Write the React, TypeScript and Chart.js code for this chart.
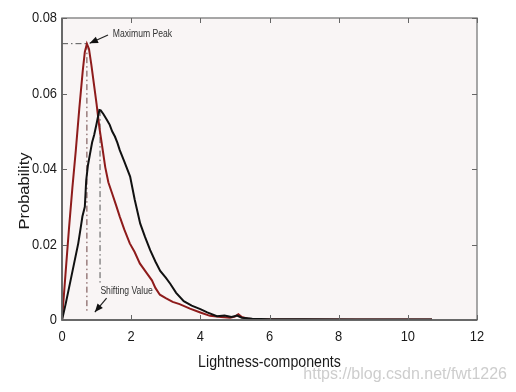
import React, { useEffect, useRef } from "react";
import { Chart, registerables } from "chart.js";

Chart.register(...registerables);

// ---- data ----
const xTicks = [0, 2, 4, 6, 8, 10, 12];
const yTicks = [0, 0.02, 0.04, 0.06, 0.08];
const yTickLabels = ["0", "0.02", "0.04", "0.06", "0.08"];

const redX = [0, 0.1, 0.2, 0.3, 0.4, 0.5, 0.6, 0.66, 0.72, 0.78, 0.85, 0.93, 1.0, 1.08, 1.17, 1.25, 1.34, 1.45, 1.56, 1.67, 1.8, 1.96, 2.1, 2.25, 2.45, 2.6, 2.7, 2.83, 3.0, 3.2, 3.4, 3.7, 4.0, 4.28, 4.6, 4.86, 5.0, 5.1, 5.2, 5.4, 5.7, 6.5, 8, 10.7];
const redY = [0, 0.012, 0.024, 0.035, 0.045, 0.056, 0.066, 0.071, 0.0732, 0.0718, 0.0675, 0.062, 0.0572, 0.051, 0.0455, 0.0405, 0.0365, 0.0335, 0.0305, 0.0274, 0.024, 0.0203, 0.018, 0.015, 0.0124, 0.0105, 0.0085, 0.0067, 0.0058, 0.0048, 0.0042, 0.003, 0.002, 0.0011, 0.0008, 0.0006, 0.0009, 0.0015, 0.0008, 0.0003, 0.0001, 0.0001, 0.0001, 0.0001];

const blackX = [0, 0.1, 0.23, 0.35, 0.47, 0.55, 0.59, 0.66, 0.7, 0.75, 0.81, 0.87, 0.93, 1.0, 1.08, 1.12, 1.2, 1.3, 1.38, 1.45, 1.53, 1.6, 1.67, 1.8, 1.97, 2.1, 2.26, 2.4, 2.55, 2.7, 2.84, 3.0, 3.13, 3.3, 3.52, 3.75, 4.0, 4.2, 4.48, 4.7, 4.9, 5.06, 5.2, 5.5, 6, 7, 8.5, 10.7];
const blackY = [0, 0.004, 0.0097, 0.015, 0.0203, 0.025, 0.0274, 0.03, 0.037, 0.041, 0.044, 0.047, 0.049, 0.052, 0.0556, 0.0555, 0.0545, 0.053, 0.0517, 0.05, 0.0486, 0.047, 0.045, 0.042, 0.038, 0.032, 0.0256, 0.022, 0.0185, 0.0155, 0.013, 0.0112, 0.0096, 0.0072, 0.005, 0.0038, 0.0029, 0.002, 0.001, 0.0012, 0.0008, 0.0012, 0.0006, 0.0003, 0.0002, 0.0002, 0.0001, 0.0001];

// reference (dash-dot) lines: [x1, y1, x2, y2]
const peakHLine = [0, 0.0732, 0.72, 0.0732];
const peakVLine = [0.72, 0.0732, 0.72, 0.0022];
const shiftVLine = [1.1, 0.0556, 1.1, 0.0095];

// annotations: text, text position, arrow tail -> head (data units)
const annoTexts = ["Maximum Peak", "Shifting Value"];
const annoTextPos = [[1.47, 0.0758], [1.11, 0.0077]];
const annoArrows = [[1.33, 0.0755, 0.8, 0.0733], [1.29, 0.0058, 0.95, 0.0021]];

const xTitle = "Lightness-components";
const yTitle = "Probability";
const watermark = "https://blog.csdn.net/fwt1226";

const SQ = 0.86;

function sqText(ctx: CanvasRenderingContext2D, text: string, x: number, y: number, font: string, align: CanvasTextAlign, color: string) {
  ctx.save();
  ctx.font = font;
  ctx.fillStyle = color;
  ctx.textAlign = align;
  ctx.textBaseline = "middle";
  ctx.translate(x, y);
  ctx.scale(SQ, 1);
  ctx.fillText(text, 0, 0);
  ctx.restore();
}

const decor = {
  id: "decor",
  beforeDraw(chart: any) {
    const { ctx, chartArea: a } = chart;
    ctx.save();
    ctx.fillStyle = "#f9f5f5";
    ctx.fillRect(a.left, a.top, a.right - a.left, a.bottom - a.top);
    ctx.restore();
  },
  beforeDatasetsDraw(chart: any) {
    const { ctx } = chart;
    const xs = chart.scales.x, ys = chart.scales.y;
    const line = (l: number[], color: string) => {
      ctx.save();
      ctx.strokeStyle = color;
      ctx.lineWidth = 1;
      ctx.setLineDash([6, 3, 1.5, 3]);
      ctx.beginPath();
      ctx.moveTo(xs.getPixelForValue(l[0]), ys.getPixelForValue(l[1]));
      ctx.lineTo(xs.getPixelForValue(l[2]), ys.getPixelForValue(l[3]));
      ctx.stroke();
      ctx.restore();
    };
    line(peakHLine, "#555");
    line(peakVLine, "#6a4040");
    line(shiftVLine, "#555");
  },
  afterDraw(chart: any) {
    const { ctx, chartArea: a } = chart;
    const xs = chart.scales.x, ys = chart.scales.y;
    ctx.save();
    // frame
    ctx.strokeStyle = "#8a8a8a";
    ctx.lineWidth = 1.5;
    ctx.strokeRect(a.left, a.top, a.right - a.left, a.bottom - a.top);
    ctx.strokeStyle = "#555";
    ctx.beginPath();
    ctx.moveTo(a.left, a.top);
    ctx.lineTo(a.left, a.bottom);
    ctx.lineTo(a.right, a.bottom);
    ctx.stroke();
    // inward ticks
    ctx.lineWidth = 1;
    ctx.strokeStyle = "#666";
    ctx.beginPath();
    xTicks.forEach((v) => {
      const px = Math.round(xs.getPixelForValue(v)) + 0.5;
      ctx.moveTo(px, a.bottom); ctx.lineTo(px, a.bottom - 5);
      ctx.moveTo(px, a.top); ctx.lineTo(px, a.top + 5);
    });
    yTicks.forEach((v) => {
      const py = Math.round(ys.getPixelForValue(v)) + 0.5;
      ctx.moveTo(a.left, py); ctx.lineTo(a.left + 5, py);
      ctx.moveTo(a.right, py); ctx.lineTo(a.right - 5, py);
    });
    ctx.stroke();
    ctx.restore();

    const tickFont = "15px 'Liberation Sans', Arial, sans-serif";
    xTicks.forEach((v) => {
      sqText(ctx, String(v), xs.getPixelForValue(v), a.bottom + 17, tickFont, "center", "#1a1a1a");
    });
    yTicks.forEach((v, i) => {
      sqText(ctx, yTickLabels[i], a.left - 5, ys.getPixelForValue(v), tickFont, "right", "#1a1a1a");
    });
    // axis titles
    sqText(ctx, xTitle, (a.left + a.right) / 2, a.bottom + 42, "16.5px 'Liberation Sans', Arial, sans-serif", "center", "#1a1a1a");
    ctx.save();
    ctx.translate(25, 191);
    ctx.rotate(-Math.PI / 2);
    ctx.scale(1, SQ);
    ctx.font = "16.5px 'Liberation Sans', Arial, sans-serif";
    ctx.fillStyle = "#1a1a1a";
    ctx.textAlign = "center";
    ctx.textBaseline = "middle";
    ctx.fillText(yTitle, 0, 0);
    ctx.restore();

    // annotations
    annoTexts.forEach((t, i) => {
      const p = annoTextPos[i];
      sqText(ctx, t, xs.getPixelForValue(p[0]), ys.getPixelForValue(p[1]), "10px 'Liberation Sans', Arial, sans-serif", "left", "#333");
      const ar = annoArrows[i];
      const x1 = xs.getPixelForValue(ar[0]), y1 = ys.getPixelForValue(ar[1]);
      const x2 = xs.getPixelForValue(ar[2]), y2 = ys.getPixelForValue(ar[3]);
      const ang = Math.atan2(y2 - y1, x2 - x1);
      ctx.save();
      ctx.strokeStyle = "#222";
      ctx.fillStyle = "#111";
      ctx.lineWidth = 1.2;
      ctx.beginPath();
      ctx.moveTo(x1, y1);
      ctx.lineTo(x2, y2);
      ctx.stroke();
      ctx.beginPath();
      ctx.moveTo(x2, y2);
      ctx.lineTo(x2 - 9 * Math.cos(ang - 0.4), y2 - 9 * Math.sin(ang - 0.4));
      ctx.lineTo(x2 - 9 * Math.cos(ang + 0.4), y2 - 9 * Math.sin(ang + 0.4));
      ctx.closePath();
      ctx.fill();
      ctx.restore();
    });

    // watermark
    ctx.save();
    ctx.font = "16px 'Liberation Sans', Arial, sans-serif";
    ctx.fillStyle = "rgba(200,200,200,0.9)";
    ctx.textAlign = "right";
    ctx.textBaseline = "middle";
    ctx.fillText(watermark, 507, 375);
    ctx.restore();
  },
};

export default function App() {
  const ref = useRef<HTMLCanvasElement>(null);
  useEffect(() => {
    if (!ref.current) return;
    const chart = new Chart(ref.current, {
      type: "line",
      data: {
        datasets: [
          {
            label: "black",
            data: blackX.map((x, i) => ({ x, y: blackY[i] })),
            borderColor: "#111111",
            borderWidth: 2,
            pointRadius: 0,
            tension: 0,
            fill: false,
          },
          {
            label: "red",
            data: redX.map((x, i) => ({ x, y: redY[i] })),
            borderColor: "#8e1b1b",
            borderWidth: 2,
            pointRadius: 0,
            tension: 0,
            fill: false,
          },
        ],
      },
      plugins: [decor],
      options: {
        animation: false,
        responsive: false,
        devicePixelRatio: 1,
        layout: { padding: { left: 0, top: 18, right: 39, bottom: 0 } },
        plugins: { legend: { display: false }, tooltip: { enabled: false } },
        scales: {
          x: {
            type: "linear",
            min: 0,
            max: 12,
            grid: { display: false },
            border: { display: false },
            ticks: { display: false, stepSize: 2 },
            afterFit: (s: any) => { s.height = 72; },
          },
          y: {
            type: "linear",
            min: 0,
            max: 0.08,
            grid: { display: false },
            border: { display: false },
            ticks: { display: false, stepSize: 0.02 },
            afterFit: (s: any) => { s.width = 62; },
          },
        },
      },
    });
    return () => chart.destroy();
  }, []);
  return (
    <div style={{ position: "absolute", left: 0, top: 0, width: 516, height: 392, background: "#fff" }}>
      <canvas ref={ref} width={516} height={392} style={{ width: 516, height: 392 }} />
    </div>
  );
}
